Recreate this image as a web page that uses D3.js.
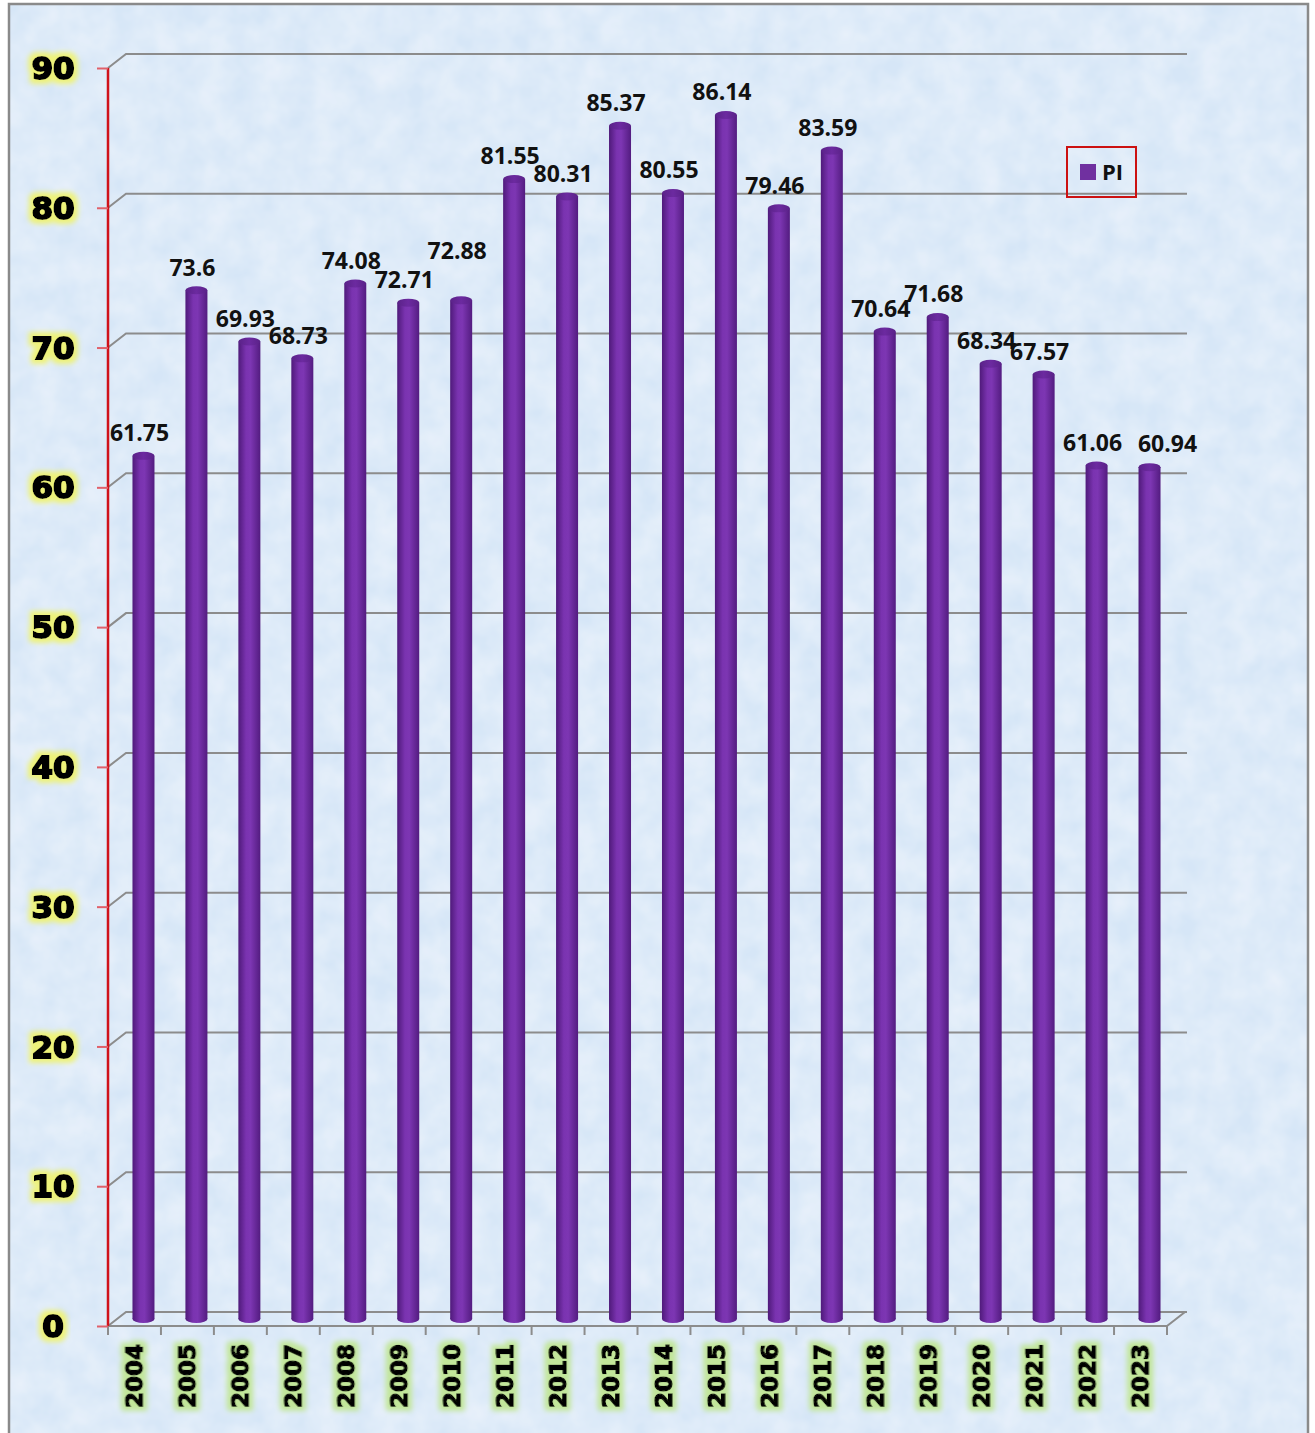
<!DOCTYPE html>
<html>
<head>
<meta charset="utf-8">
<script src="https://cdn.jsdelivr.net/npm/d3@7"></script>
<style>
  body { margin: 0; background: #fff; }
  svg { display: block; }
</style>
</head>
<body>
<div id="chart"></div>
<script>
// Chart data
var years = ["2004","2005","2006","2007","2008","2009","2010","2011","2012","2013",
             "2014","2015","2016","2017","2018","2019","2020","2021","2022","2023"];
var piValues = [61.75, 73.6, 69.93, 68.73, 74.08, 72.71, 72.88, 81.55, 80.31, 85.37,
                80.55, 86.14, 79.46, 83.59, 70.64, 71.68, 68.34, 67.57, 61.06, 60.94];
var yTicks = [0, 10, 20, 30, 40, 50, 60, 70, 80, 90];
var seriesName = "PI";

var w = 1315;
var h = 1433;

// 3D depth offsets (back wall / middle of floor)
var depthX = 18, depthY = -14;

var data = years.map(function(y, i) { return { year: y, value: piValues[i] }; });

var xScale = d3.scaleBand()
               .domain(years)
               .range([108, 1167]);

var yScale = d3.scaleLinear()
               .domain([0, 90])
               .range([1326, 68]);

var svg = d3.select("#chart")
            .append("svg")
            .attr("width", w)
            .attr("height", h);

var defs = svg.append("defs");

// textured light blue background
var tex = defs.append("filter").attr("id", "tex")
              .attr("x", 0).attr("y", 0).attr("width", "100%").attr("height", "100%");
tex.append("feTurbulence").attr("type", "fractalNoise").attr("baseFrequency", 0.035)
   .attr("numOctaves", 3).attr("seed", 4).attr("result", "noise");
tex.append("feColorMatrix").attr("in", "noise").attr("type", "matrix")
   .attr("values", "0 0 0 0 1  0 0 0 0 1  0 0 0 0 1  0 0 0 0.55 -0.1")
   .attr("result", "spots");
tex.append("feComposite").attr("in", "spots").attr("in2", "SourceGraphic").attr("operator", "atop");

// cylinder shading
var grad = defs.append("linearGradient").attr("id", "cyl")
               .attr("x1", "0%").attr("x2", "100%").attr("y1", "0%").attr("y2", "0%");
[["0%", "#4f1a7a"], ["35%", "#7a33b0"], ["55%", "#7d36b3"], ["100%", "#531c80"]].forEach(function(s) {
  grad.append("stop").attr("offset", s[0]).attr("stop-color", s[1]);
});
var topGrad = defs.append("linearGradient").attr("id", "cyltop")
               .attr("x1", "0%").attr("x2", "100%");
[["0%", "#5a2288"], ["50%", "#6c2aa0"], ["100%", "#5a2288"]].forEach(function(s) {
  topGrad.append("stop").attr("offset", s[0]).attr("stop-color", s[1]);
});

// glow filters for tick labels
function glow(id, color, radius) {
  var f = defs.append("filter").attr("id", id)
              .attr("x", "-30%").attr("y", "-30%").attr("width", "160%").attr("height", "160%");
  f.append("feMorphology").attr("in", "SourceAlpha").attr("operator", "dilate")
   .attr("radius", radius).attr("result", "d");
  f.append("feGaussianBlur").attr("in", "d").attr("stdDeviation", 2.5).attr("result", "b");
  f.append("feFlood").attr("flood-color", color).attr("result", "c");
  f.append("feComposite").attr("in", "c").attr("in2", "b").attr("operator", "in").attr("result", "g");
  var m = f.append("feMerge");
  m.append("feMergeNode").attr("in", "g");
  m.append("feMergeNode").attr("in", "SourceGraphic");
}
glow("glowY", "#eef27a", 3.5);
glow("glowX", "#c2e69a", 3.5);

// background
svg.append("rect")
   .attr("x", 9).attr("y", 4).attr("width", 1299).attr("height", 1440)
   .attr("fill", "#d6e6f7")
   .attr("filter", "url(#tex)");
svg.append("rect")
   .attr("x", 9).attr("y", 4).attr("width", 1299).attr("height", 1440)
   .attr("fill", "none").attr("stroke", "#8a8a8a").attr("stroke-width", 2.5);

var x0 = xScale.range()[0], x1 = xScale.range()[1];

// back wall gridlines with the short diagonal to the axis
var grid = svg.append("g");
yTicks.forEach(function(t) {
  var yy = yScale(t);
  grid.append("path")
      .attr("d", "M" + x0 + "," + yy + "L" + (x0 + depthX) + "," + (yy + depthY) +
                 "L" + (x1 + depthX + 2) + "," + (yy + depthY))
      .attr("fill", "none").attr("stroke", "#8c8c8c").attr("stroke-width", 2);
});

// floor front edge + right side
grid.append("path")
    .attr("d", "M" + x0 + "," + yScale(0) + "L" + x1 + "," + yScale(0) +
               "L" + (x1 + depthX) + "," + (yScale(0) + depthY))
    .attr("fill", "none").attr("stroke", "#8c8c8c").attr("stroke-width", 2);

// x axis ticks (category boundaries)
var bounds = years.map(function(y) { return xScale(y); }).concat([x1]);
svg.append("g").selectAll("line").data(bounds).join("line")
   .attr("x1", d => d).attr("x2", d => d)
   .attr("y1", yScale(0)).attr("y2", yScale(0) + 9)
   .attr("stroke", "#8c8c8c").attr("stroke-width", 2);

// y axis (red)
var yAxis = d3.axisLeft(yScale).tickValues(yTicks).tickSize(11).tickFormat("");
svg.append("g").attr("transform", "translate(" + x0 + ",0)").call(yAxis)
   .call(function(g) {
     g.select(".domain").attr("stroke", "#d0121b").attr("stroke-width", 2.5)
      .attr("d", "M0," + yScale(90) + "V" + yScale(0));
     g.selectAll(".tick line").attr("stroke", "#e0606a").attr("stroke-width", 2);
   });

// y tick labels
svg.append("g").selectAll("text").data(yTicks).join("text")
   .attr("x", 53).attr("y", d => yScale(d))
   .attr("dy", "0.36em")
   .attr("text-anchor", "middle")
   .attr("font-family", "DejaVu Sans, sans-serif")
   .attr("font-weight", "bold")
   .attr("font-size", 31)
   .attr("stroke", "#000").attr("stroke-width", 2)
   .attr("filter", "url(#glowY)")
   .text(d => d);

// x tick labels, rotated
svg.append("g").selectAll("text").data(years).join("text")
   .attr("transform", d => "translate(" + (xScale(d) + xScale.bandwidth() / 2) + ",1376) rotate(-90)")
   .attr("dy", "0.36em")
   .attr("text-anchor", "middle")
   .attr("font-family", "DejaVu Sans, sans-serif")
   .attr("font-weight", "bold")
   .attr("font-size", 23)
   .attr("stroke", "#000").attr("stroke-width", 1.4)
   .attr("filter", "url(#glowX)")
   .text(d => d);

// cylinders
var barW = 22, ry = 4;
var midX = depthX / 2, midY = depthY / 2;
var bars = svg.append("g").selectAll("g").data(data).join("g");
function cx(d) { return xScale(d.year) + xScale.bandwidth() / 2 + midX; }
bars.append("ellipse")
    .attr("cx", cx).attr("cy", yScale(0) + midY)
    .attr("rx", barW / 2).attr("ry", ry)
    .attr("fill", "url(#cyl)");
bars.append("rect")
    .attr("x", d => cx(d) - barW / 2)
    .attr("y", d => yScale(d.value) + midY)
    .attr("width", barW)
    .attr("height", d => yScale(0) - yScale(d.value))
    .attr("fill", "url(#cyl)");
bars.append("ellipse")
    .attr("cx", cx).attr("cy", d => yScale(d.value) + midY)
    .attr("rx", barW / 2).attr("ry", ry)
    .attr("fill", "url(#cyltop)");

// value labels (a couple were nudged in the original to avoid collisions)
function nudgeX(d) { return d.year === "2023" ? 22 : 0; }
function nudgeY(d) { return d.year === "2010" ? -27 : 0; }
svg.append("g").selectAll("text").data(data).join("text")
   .attr("x", d => cx(d) - 4 + nudgeX(d))
   .attr("y", d => yScale(d.value) + midY - 23 + nudgeY(d))
   .attr("dy", "0.36em")
   .attr("text-anchor", "middle")
   .attr("font-family", "Open Sans, sans-serif")
   .attr("font-weight", "bold")
   .attr("font-size", 23)
   .attr("fill", "#111")
   .text(d => d.value);

// legend
var legend = svg.append("g").attr("transform", "translate(1067,147)");
legend.append("rect").attr("width", 69).attr("height", 50)
      .attr("fill", "none").attr("stroke", "#cc1111").attr("stroke-width", 2);
legend.append("rect").attr("x", 13).attr("y", 17).attr("width", 16).attr("height", 16)
      .attr("fill", "#7030a0");
legend.append("text").attr("x", 35).attr("y", 25).attr("dy", "0.36em")
      .attr("font-family", "Open Sans, sans-serif").attr("font-weight", "bold")
      .attr("font-size", 22).attr("fill", "#111")
      .text(seriesName);
</script>
</body>
</html>
